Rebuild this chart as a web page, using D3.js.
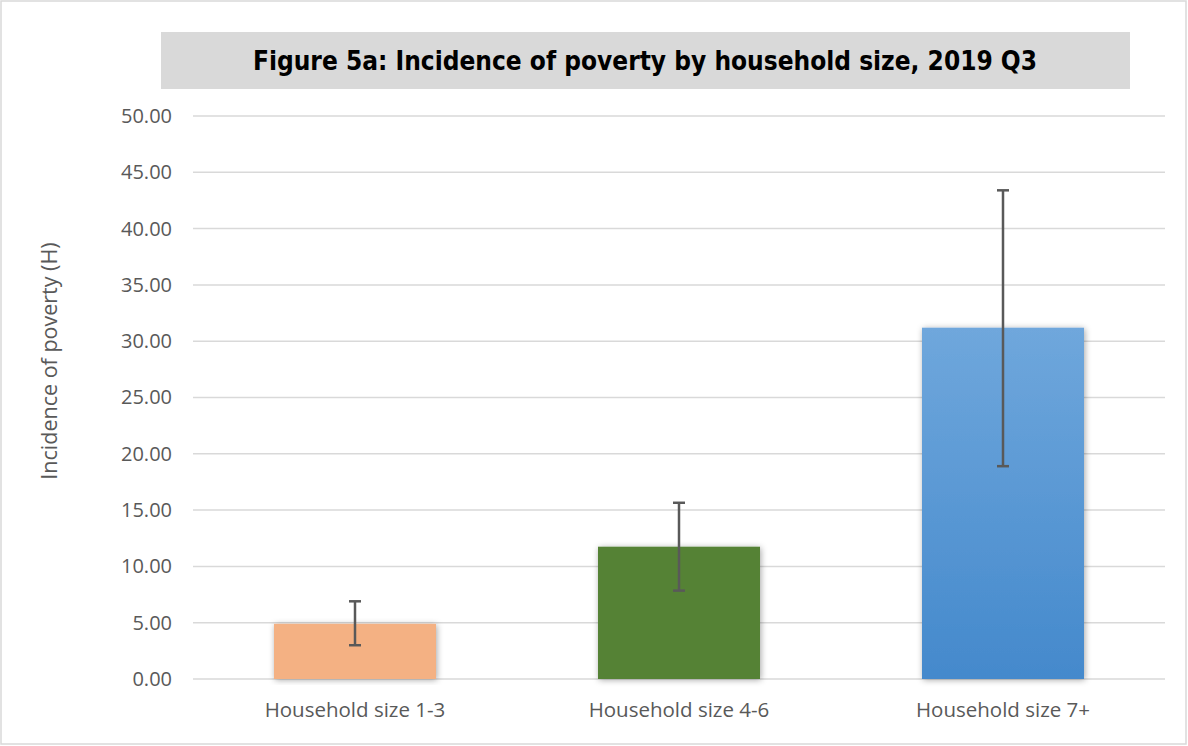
<!DOCTYPE html>
<html><head><meta charset="utf-8">
<script src="https://cdn.jsdelivr.net/npm/d3@7"></script>
<style>body{margin:0;background:#fff;} svg{display:block;}</style>
</head><body>
<script>
const categories = ["Household size 1-3", "Household size 4-6", "Household size 7+"];
const values = [4.9, 11.75, 31.2];
const errLow = [3.0, 7.85, 18.9];
const errHigh = [6.9, 15.65, 43.4];
const yTicks = [0, 5, 10, 15, 20, 25, 30, 35, 40, 45, 50];
const titleText = "Figure 5a: Incidence of poverty by household size, 2019 Q3";
const yTitle = "Incidence of poverty (H)";

const W = 1188, H = 746;
const svg = d3.select("body").append("svg").attr("width", W).attr("height", H);
const defs = svg.append("defs");
const grad = defs.append("linearGradient").attr("id","blueGrad").attr("x1",0).attr("y1",0).attr("x2",0).attr("y2",1);
grad.append("stop").attr("offset","0%").attr("stop-color","#6fa7dc");
grad.append("stop").attr("offset","100%").attr("stop-color","#4489cc");
const flt = defs.append("filter").attr("id","shadow").attr("x","-10%").attr("y","-10%").attr("width","120%").attr("height","120%");
flt.append("feDropShadow").attr("dx",1).attr("dy",1).attr("stdDeviation",3).attr("flood-color","#000").attr("flood-opacity",0.35);

svg.append("rect").attr("x",1).attr("y",1).attr("width",W-3).attr("height",H-3)
  .attr("fill","#fff").attr("stroke","#d9d9d9").attr("stroke-width",1.5);

svg.append("rect").attr("x",161).attr("y",32).attr("width",969).attr("height",57).attr("fill","#d9d9d9");
svg.append("text").attr("x",645).attr("y",70).attr("text-anchor","middle")
  .attr("font-family","'DejaVu Sans Condensed','DejaVu Sans',sans-serif").attr("font-weight","bold")
  .attr("font-size",26).attr("fill","#000").text(titleText);

const x = d3.scaleBand().domain(categories).range([193,1165]).paddingInner(0.5).paddingOuter(0.25);
const y = d3.scaleLinear().domain([0,50]).range([679,116]);

const grid = svg.append("g");
grid.selectAll("line").data(yTicks).join("line")
  .attr("x1",193).attr("x2",1165).attr("y1",d=>y(d)).attr("y2",d=>y(d))
  .attr("stroke","#d9d9d9").attr("stroke-width",1.5);

const yAxis = svg.append("g").attr("transform","translate(193,0)")
  .call(d3.axisLeft(y).tickValues(yTicks).tickFormat(d3.format(".2f")).tickSize(0).tickPadding(21));
yAxis.select(".domain").remove();
yAxis.selectAll("text").attr("font-family","'Open Sans',sans-serif").attr("font-size",20).attr("fill","#595959");

const xAxis = svg.append("g").attr("transform","translate(0,679)")
  .call(d3.axisBottom(x).tickSize(0).tickPadding(23));
xAxis.select(".domain").remove();
xAxis.selectAll("text").attr("font-family","'Open Sans',sans-serif").attr("font-size",20.5).attr("fill","#595959");

const colors = ["#f4b183", "#548235", "url(#blueGrad)"];
svg.append("g").selectAll("rect").data(values).join("rect")
  .attr("x",(d,i)=>x(categories[i])).attr("width",x.bandwidth())
  .attr("y",d=>y(d)).attr("height",d=>y(0)-y(d))
  .attr("fill",(d,i)=>colors[i]).attr("filter","url(#shadow)");

const eb = svg.append("g").attr("stroke","#595959").attr("stroke-width",2.5);
categories.forEach((c,i)=>{
  const cx = x(c)+x.bandwidth()/2;
  eb.append("line").attr("x1",cx).attr("x2",cx).attr("y1",y(errHigh[i])).attr("y2",y(errLow[i]));
  eb.append("line").attr("x1",cx-6).attr("x2",cx+6).attr("y1",y(errHigh[i])).attr("y2",y(errHigh[i]));
  eb.append("line").attr("x1",cx-6).attr("x2",cx+6).attr("y1",y(errLow[i])).attr("y2",y(errLow[i]));
});

svg.append("text").attr("transform","translate(57,361) rotate(-90)").attr("text-anchor","middle")
  .attr("font-family","'Open Sans',sans-serif").attr("font-size",21.5).attr("fill","#595959").text(yTitle);
</script>
</body></html>
